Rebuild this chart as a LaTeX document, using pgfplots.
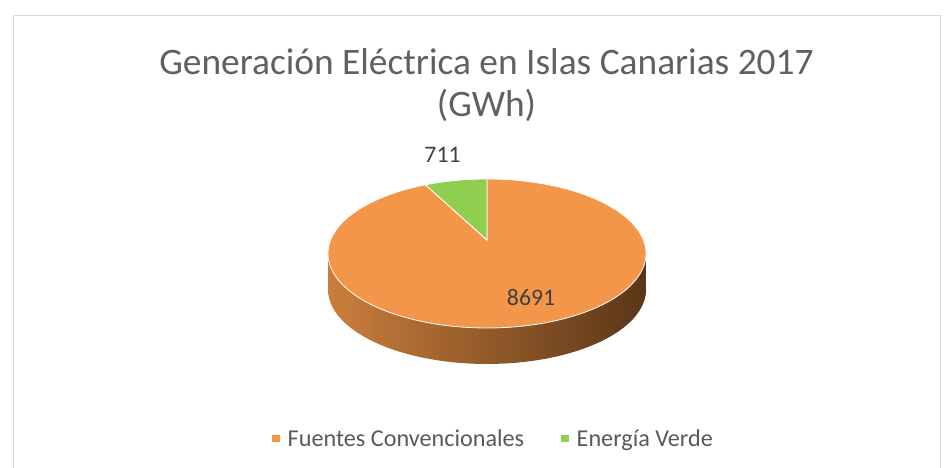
\documentclass[border=0pt]{standalone}
\usepackage{pgfplots}
\pgfplotsset{compat=1.18}
\usepackage{pgfplotstable}
\usepackage{fontspec}
\setmainfont{Carlito}
\definecolor{orangeC}{HTML}{F4964A}
\definecolor{greenC}{HTML}{8FCE4E}
\definecolor{sideL}{HTML}{CB7E3D}
\definecolor{sideM}{HTML}{8E5428}
\definecolor{sideR}{HTML}{5A3617}
\definecolor{txtgray}{HTML}{595959}
\definecolor{titlegray}{HTML}{606060}
\definecolor{lblgray}{HTML}{404040}
\definecolor{framegray}{HTML}{D9D9D9}
\pgfplotstableread{
label value
Fuentes 8691
Verde 711
}\datatable
\pgfplotstablegetelem{0}{value}\of\datatable \let\vA\pgfplotsretval
\pgfplotstablegetelem{1}{value}\of\datatable \let\vB\pgfplotsretval
\pgfmathsetmacro\fracB{\vB/(\vA+\vB)}
\pgfmathsetmacro\angB{360*\fracB}
\pgfmathsetmacro\gE{90+\angB}
% perspective disc: centre apex (487,228), R=156.4, c=0.1812
\def\PX(#1){487+156.4*cos(#1)/(1+0.1812*sin(#1))}
\def\PY(#1){468-(240-28.57*sin(#1))/(1+0.1812*sin(#1))}
\begin{document}
\begin{tikzpicture}
\path[use as bounding box] (0,0) rectangle (951bp,468bp);
\draw[framegray, line width=1bp] (13.5bp,0bp) -- (13.5bp,452.5bp) -- (940bp,452.5bp) -- (940bp,0bp);
\begin{axis}[at={(0,0)}, anchor=south west, width=951bp, height=468bp,
  scale only axis, xmin=0, xmax=951, ymin=0, ymax=468, hide axis, clip=false,
  legend style={at={(axis cs:493.5,29.5)}, anchor=center, draw=none, fill=none,
    font=\fontsize{24.2bp}{28bp}\selectfont, text=txtgray, legend columns=2,
    /tikz/every even column/.append style={column sep=35bp}, inner sep=0pt},
  legend image code/.code={\path (0bp,0bp) -- (13.5bp,0bp);\fill[#1] (0bp,-3.8bp) rectangle (7.5bp,3.7bp);},
]
% side of the disc
\addplot[forget plot, draw=none, left color=sideL, middle color=sideM, right color=sideR, domain=0:360, samples=120, variable=\t]
  ({\PX(t)},{\PY(t)-36}) -- cycle;
\addplot[forget plot, draw=none, left color=sideL, middle color=sideM, right color=sideR]
  coordinates {(328.4,178.5) (645.6,178.5) (645.6,214.5) (328.4,214.5)} -- cycle;
% top face
\addplot[forget plot, fill=orangeC, draw=white, line width=0.8pt, domain=\gE:450, samples=200, variable=\t]
  ({\PX(t)},{\PY(t)}) -- (axis cs:487,228) -- cycle;
\addplot[forget plot, fill=greenC, draw=white, line width=0.8pt, domain=90:\gE, samples=30, variable=\t]
  ({\PX(t)},{\PY(t)}) -- (axis cs:487,228) -- cycle;
% labels
\node[font=\fontsize{23.7bp}{28bp}\selectfont, text=lblgray] at (axis cs:442.5,313) {711};
\node[font=\fontsize{23.7bp}{28bp}\selectfont, text=lblgray] at (axis cs:531,171) {8691};
% title
\node[font=\fontsize{37.4bp}{41.5bp}\selectfont, text=titlegray, align=center] at (axis cs:486.5,383)
  {Generación Eléctrica en Islas Canarias 2017\\(GWh)};
% legend
\addlegendimage{fill=orangeC, draw=none}
\addlegendentry{Fuentes Convencionales}
\addlegendimage{fill=greenC, draw=none}
\addlegendentry{Energía Verde}
\end{axis}
\end{tikzpicture}
\end{document}
